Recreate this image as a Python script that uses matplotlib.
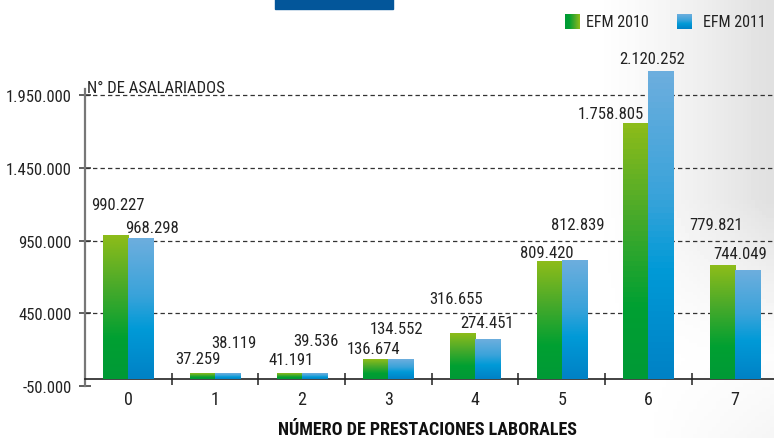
import numpy as np
import matplotlib
matplotlib.use("Agg")
import matplotlib.pyplot as plt
from matplotlib.colors import LinearSegmentedColormap
from matplotlib.patches import Rectangle

plt.rcParams['font.family'] = ['Roboto Condensed', 'DejaVu Sans']

# datos
categorias = ['0', '1', '2', '3', '4', '5', '6', '7']
efm_2010 = [990227, 37259, 41191, 136674, 316655, 809420, 1758805, 779821]
efm_2011 = [968298, 38119, 39536, 134552, 274451, 812839, 2120252, 744049]
ticks_y = [-50000, 450000, 950000, 1450000, 1950000]

# desplazamiento de las etiquetas (pixeles, respecto al tope de la barra)
off_2010 = [(2, 30), (-4, 15), (2, 13), (-2, 10), (-6, 34), (-2, 9), (-25, 10), (-6, 41)]
off_2011 = [(11, 11), (6, 31), (2, 32), (-4, 31), (-1, 16), (4, 36), (-9, 12), (-7, 17)]


def fmt(v):
    return f"{v:,}".replace(",", ".")


verde = LinearSegmentedColormap.from_list(
    "verde", [(0, "#009a36"), (0.28, "#00a032"), (0.65, "#4aaa2a"), (1, "#8cbc1a")])
azul = LinearSegmentedColormap.from_list(
    "azul", [(0, "#0082c6"), (0.35, "#009ad7"), (0.6, "#3aa3da"), (1, "#6caede")])

W, H = 774, 439
fig = plt.figure(figsize=(W / 100, H / 100), dpi=100)

# fondo con un leve gris a la derecha
bg = fig.add_axes([0, 0, 1, 1], zorder=-5)
xx, yy = np.meshgrid(np.linspace(0, W, 200), np.linspace(0, H, 120))
sombra = np.clip((xx - 590) / 180, 0, 1) ** 1.3 * np.clip((360 - yy) / 160, 0, 1) * 0.12
sombra += np.clip((xx - 640) / 140, 0, 1) * np.clip((yy - 330) / 110, 0, 1) * 0.04
bg.imshow(1 - sombra, cmap='gray', vmin=0, vmax=1, extent=[0, W, H, 0], aspect='auto')
bg.add_patch(Rectangle((275, 0), 118, 10, color="#03569a"))

# leyenda
grad_h = np.linspace(0, 1, 50).reshape(1, -1)
grad_v = np.linspace(0, 1, 50).reshape(-1, 1)
bg.imshow(grad_h, cmap=verde, extent=[565, 580, 30, 15], aspect='auto')
bg.imshow(grad_v, cmap=azul, extent=[677, 692, 30, 15], aspect='auto', origin='lower')
bg.set_xlim(0, W)
bg.set_ylim(H, 0)
bg.axis('off')
fig.text(586 / W, 1 - 22.5 / H, "EFM 2010", fontsize=11.5, va='center', color='#222222')
fig.text(703 / W, 1 - 22.5 / H, "EFM 2011", fontsize=11.5, va='center', color='#222222')

ax = fig.add_axes([85 / W, (H - 386.9) / H, (W - 85) / W, (386.9 - 40) / H])
ax.patch.set_alpha(0)
ymax = 2338800

x = np.arange(len(categorias))
bw = 0.29
for i in range(len(categorias)):
    for v, cm, dx, off in ((efm_2010[i], verde, -bw, off_2010[i]), (efm_2011[i], azul, 0, off_2011[i])):
        x0 = x[i] + dx
        ax.imshow(grad_v, cmap=cm, extent=[x0, x0 + bw, 0, v], aspect='auto',
                  origin='lower', zorder=3)
        ax.annotate(fmt(v), (x0 + bw / 2, v), xytext=off, textcoords='offset pixels',
                    ha='center', va='center', fontsize=12, color='#222222', zorder=4)

ax.set_xlim(-0.5, 7.45)
ax.set_ylim(-50000, ymax)

for t in ticks_y[1:]:
    ax.axhline(t, color='#333333', lw=0.9, ls=(0, (3.5, 2.5)), zorder=1)

for s in ['top', 'right']:
    ax.spines[s].set_visible(False)
ax.spines['bottom'].set_position(('data', 0))
ax.spines['bottom'].set_color('#222222')
ax.spines['bottom'].set_linewidth(1.2)
ax.spines['left'].set_color('#777777')
ax.spines['left'].set_linewidth(1.6)
ax.spines['left'].set_bounds(-50000, 1995000)

ax.set_yticks(ticks_y)
ax.set_yticklabels([fmt(t) for t in ticks_y], fontsize=12, color='#222222')
ax.tick_params(axis='y', direction='inout', length=9, width=1.1, color='#333333', pad=5)

ax.set_xticks(x[:-1] + 0.5)
ax.set_xticklabels([])
ax.tick_params(axis='x', which='major', direction='inout', length=8, width=1.1, color='#222222')
ax.set_xticks(x, minor=True)
ax.set_xticklabels(categorias, minor=True, fontsize=13, color='#222222')
ax.tick_params(axis='x', which='minor', length=0, pad=8)

ax.text(0.003, 1950000, "N° DE ASALARIADOS", transform=ax.get_yaxis_transform(),
        fontsize=12, color='#222222', va='bottom', ha='left')

fig.text(427.5 / W, 1 - 430 / H, "NÚMERO DE PRESTACIONES LABORALES",
         fontsize=13, fontweight='bold', ha='center', va='center', color='#111111')

fig.savefig("out.png", dpi=100)
